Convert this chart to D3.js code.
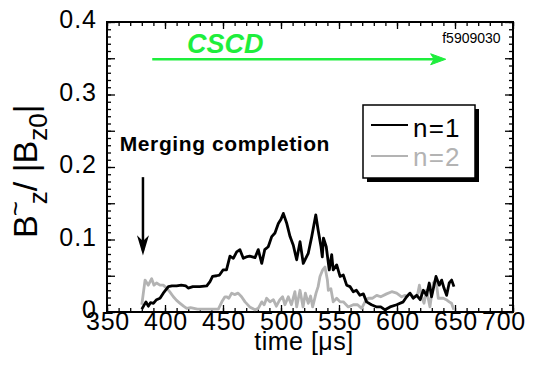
<!DOCTYPE html>
<html>
<head>
<meta charset="utf-8">
<script src="https://cdn.jsdelivr.net/npm/d3@7"></script>
<style>
  body { margin: 0; background: #fff; }
  text { font-family: "Liberation Sans", Arial, sans-serif; }
</style>
</head>
<body>
<div id="plot"></div>
<script>
// Width and height
const w = 536;
const h = 365;
const margin = {top: 22, right: 23, bottom: 53, left: 107};
const innerWidth = w - margin.left - margin.right;
const innerHeight = h - margin.top - margin.bottom;

// data
const n1Time = [380, 383.6, 385.6, 387.6, 390, 392.7, 395.7, 398.5, 402.9, 406, 410, 414, 418, 420, 424, 430, 436,
  438.8, 441, 444.5, 447, 450, 453, 456, 458.9, 461.8, 464.6, 467.5, 470, 473, 477.6, 480.4, 483.4, 486, 489,
  492, 494.8, 497.7, 500, 502, 505, 507.8, 510.6, 513.5, 516.4, 519.2, 523.5, 526.5, 530, 532, 534.5, 535.6,
  536.6, 539, 541.6, 543.7, 545, 548, 550.9, 553.7, 556.6, 559.5, 562.3, 565, 568, 571, 573.8, 578, 582.5,
  586, 589.7, 594, 599.7, 605.4, 608.3, 611.2, 614, 617, 620, 622.7, 625.5, 627.8, 629.8, 633.6, 636.5,
  638.5, 640.5, 642.8, 645, 647.1, 649.1];
const n1Val = [0.004, 0.014, 0.008, 0.013, 0.012, 0.017, 0.019, 0.026, 0.035, 0.036, 0.036, 0.037, 0.036, 0.033, 0.035, 0.035, 0.036,
  0.042, 0.049, 0.050, 0.051, 0.058, 0.058, 0.077, 0.074, 0.083, 0.086, 0.074, 0.076, 0.077, 0.075, 0.086, 0.067, 0.086, 0.090,
  0.104, 0.109, 0.122, 0.128, 0.136, 0.122, 0.104, 0.092, 0.072, 0.097, 0.067, 0.081, 0.104, 0.134, 0.113, 0.090, 0.076,
  0.102, 0.090, 0.058, 0.079, 0.058, 0.065, 0.049, 0.051, 0.037, 0.035, 0.028, 0.030, 0.023, 0.025, 0.014, 0.010, 0.007,
  0.007, 0.003, 0.007, 0.010, 0.014, 0.021, 0.026, 0.019, 0.023, 0.017, 0.030, 0.023, 0.040, 0.021, 0.049, 0.037,
  0.044, 0.033, 0.023, 0.040, 0.044, 0.035];

const n2Time = [380, 382.8, 385.6, 388.5, 390.5, 392.7, 395.7, 398.5, 401.4, 404, 407.2, 410, 413, 416, 418.7, 422, 428,
  435.9, 446, 449, 451.7, 453, 455, 457.5, 460, 463, 466, 469, 473, 477.6, 480.4, 483.4, 485.5, 487.6, 490.5,
  493.4, 496, 499, 501.4, 503.4, 506.3, 509, 512, 513.5, 516.4, 519, 521, 523.5, 525.5, 527.3, 530.2, 532,
  533.6, 535.9, 537.9, 540, 540.8, 543, 545, 548, 551, 553.7, 558, 562.3, 566, 569.5, 572.4, 575.3, 579,
  582.5, 586, 591, 595.5, 599.7, 604, 607, 608.5, 611.2, 614, 617.6, 619.3, 621.3, 623.3, 625.5, 628.4,
  631.3, 633.6, 635.6, 639.9, 642.5, 645, 647, 649];
const n2Val = [0.010, 0.044, 0.037, 0.046, 0.037, 0.040, 0.037, 0.037, 0.033, 0.028, 0.021, 0.016, 0.012, 0.008, 0.005, 0.006, 0.004,
  0.004, 0.004, 0.014, 0.021, 0.021, 0.019, 0.026, 0.024, 0.026, 0.021, 0.014, 0.007, 0.003, 0.005, 0.014, 0.010, 0.019, 0.014,
  0.017, 0.008, 0.017, 0.021, 0.010, 0.021, 0.010, 0.028, 0.007, 0.030, 0.007, 0.026, 0.012, 0.022, 0.007, 0.026, 0.035,
  0.049, 0.058, 0.062, 0.044, 0.030, 0.032, 0.014, 0.019, 0.014, 0.014, 0.007, 0.010, 0.010, 0.005, 0.014, 0.019, 0.019,
  0.023, 0.021, 0.025, 0.028, 0.026, 0.021, 0.023, 0.021, 0.026, 0.021, 0.023, 0.037, 0.021, 0.012, 0.030, 0.007,
  0.040, 0.044, 0.019, 0.019, 0.017, 0.014, 0.012, 0.003];

const xTicks = [350, 400, 450, 500, 550, 600, 650, 700];
const yTicks = [0, 0.1, 0.2, 0.3, 0.4];

const n1 = n1Time.map((t, i) => [t, n1Val[i]]);
const n2 = n2Time.map((t, i) => [t, n2Val[i]]);

// create SVG element
const svg = d3.select("div#plot")
  .append("svg")
    .attr("width", w)
    .attr("height", h);

const g = svg.append("g")
  .attr("id", "plot")
  .attr("transform", `translate (${margin.left}, ${margin.top})`);

const xScale = d3.scaleLinear()
  .domain([350, 700])
  .range([0, innerWidth]);

const yScale = d3.scaleLinear()
  .domain([0, 0.4])
  .range([innerHeight, 0]);

// inward ticks on all four sides
const minorX = d3.range(350, 701, 10);
const majorX = d3.range(350, 701, 50);
const minorY = d3.range(0, 0.4001, 0.01);
const majorY = d3.range(0, 0.4001, 0.05);

function tickAxis(axis, vals, size, transform) {
  const a = g.append("g")
    .attr("class", "ticks")
    .attr("transform", transform)
    .call(axis.tickValues(vals).tickSize(-size).tickFormat(""));
  a.select(".domain").remove();
  a.selectAll("line").attr("stroke", "#000").attr("stroke-width", 1.3);
}
tickAxis(d3.axisBottom(xScale), minorX, 4, `translate(0,${innerHeight})`);
tickAxis(d3.axisBottom(xScale), majorX, 7, `translate(0,${innerHeight})`);
tickAxis(d3.axisTop(xScale), minorX, 4, "translate(0,0)");
tickAxis(d3.axisTop(xScale), majorX, 7, "translate(0,0)");
tickAxis(d3.axisLeft(yScale), minorY, 4, "translate(0,0)");
tickAxis(d3.axisLeft(yScale), majorY, 8, "translate(0,0)");
tickAxis(d3.axisRight(yScale), minorY, 4, `translate(${innerWidth},0)`);
tickAxis(d3.axisRight(yScale), majorY, 8, `translate(${innerWidth},0)`);

// frame
g.append("rect")
  .attr("width", innerWidth)
  .attr("height", innerHeight)
  .attr("fill", "none")
  .attr("stroke", "#000")
  .attr("stroke-width", 2);

// tick labels
g.selectAll("text.xlab")
  .data(xTicks)
  .enter()
  .append("text")
    .attr("class", "xlab")
    .attr("x", d => xScale(d) + (d == 700 ? -9 : 1))
    .attr("y", innerHeight + 18)
    .attr("text-anchor", "middle")
    .style("font-size", "25px")
    .style("letter-spacing", "0.8px")
    .text(d => d);

g.selectAll("text.ylab")
  .data(yTicks)
  .enter()
  .append("text")
    .attr("class", "ylab")
    .attr("x", -10)
    .attr("y", d => yScale(d) + 6)
    .attr("text-anchor", "end")
    .style("font-size", "25px")
    .style("letter-spacing", "1px")
    .text(d => d == 0 ? "0" : d.toFixed(1));

// x-axis label
g.append("text")
  .attr("x", innerWidth / 2 - 6)
  .attr("y", innerHeight + 38)
  .attr("text-anchor", "middle")
  .style("font-size", "25px")
  .style("letter-spacing", "0.5px")
  .text("time [\u03bcs]");

// y-axis label
const ylab = svg.append("text")
  .attr("transform", "translate(37, 238) rotate(-90)")
  .style("font-size", "34px");
ylab.append("tspan").text("B");
ylab.append("tspan").attr("dy", -13).attr("dx", -1).style("font-size", "26px").text("~");
ylab.append("tspan").attr("dy", 23).attr("dx", -3).style("font-size", "26px").text("z");
ylab.append("tspan").attr("dy", -10).text("/ |B");
ylab.append("tspan").attr("dy", 10).style("font-size", "26px").text("z0");
ylab.append("tspan").attr("dy", -10).text("|");

// curves
const line = d3.line()
  .x(d => xScale(d[0]))
  .y(d => yScale(d[1]));

g.append("path")
  .datum(n2)
  .attr("d", line)
  .attr("fill", "none")
  .attr("stroke", "#b3b3b3")
  .attr("stroke-width", 2.8)
  .attr("stroke-linejoin", "round");

g.append("path")
  .datum(n1)
  .attr("d", line)
  .attr("fill", "none")
  .attr("stroke", "#000")
  .attr("stroke-width", 2.8)
  .attr("stroke-linejoin", "round");

// CSCD arrow
const green = "#1eee3c";
const gy = yScale(0.35) + 1;
g.append("line")
  .attr("x1", xScale(389)).attr("x2", xScale(638))
  .attr("y1", gy).attr("y2", gy)
  .attr("stroke", green)
  .attr("stroke-width", 2.5);
g.append("path")
  .attr("d", `M${xScale(642)},${gy} L${xScale(629)},${gy - 5.5} L${xScale(632)},${gy} L${xScale(629)},${gy + 5.5} Z`)
  .attr("fill", green)
  .attr("stroke", green)
  .attr("stroke-width", 1);
g.append("text")
  .attr("x", xScale(419))
  .attr("y", 31)
  .style("font-size", "27px")
  .style("font-weight", "bold")
  .style("font-style", "italic")
  .attr("fill", green)
  .text("CSCD");

g.append("text")
  .attr("x", xScale(639))
  .attr("y", 21)
  .style("font-size", "14px")
  .text("f5909030");

// merging completion annotation
g.append("text")
  .attr("x", xScale(361))
  .attr("y", 129)
  .style("font-size", "21px")
  .style("font-weight", "bold")
  .style("letter-spacing", "0.6px")
  .text("Merging completion");

const ax = xScale(381);
g.append("line")
  .attr("x1", ax).attr("x2", ax)
  .attr("y1", yScale(0.186)).attr("y2", yScale(0.085))
  .attr("stroke", "#000")
  .attr("stroke-width", 2.5);
g.append("path")
  .attr("d", `M${ax},${yScale(0.078)} L${ax - 6},${yScale(0.106)} L${ax},${yScale(0.098)} L${ax + 6},${yScale(0.106)} Z`)
  .attr("fill", "#000");

// legend
const lg = svg.append("g").attr("transform", "translate(363,105)");
lg.append("rect")
  .attr("x", 4).attr("y", 4)
  .attr("width", 112).attr("height", 73)
  .attr("fill", "#000");
lg.append("rect")
  .attr("width", 112).attr("height", 73)
  .attr("fill", "#fff")
  .attr("stroke", "#000")
  .attr("stroke-width", 1.5);
const legendItems = [["n=1", "#000"], ["n=2", "#b3b3b3"]];
legendItems.forEach((d, i) => {
  lg.append("line")
    .attr("x1", 8).attr("x2", 45)
    .attr("y1", 20 + i * 31).attr("y2", 20 + i * 31)
    .attr("stroke", d[1])
    .attr("stroke-width", 2);
  lg.append("text")
    .attr("x", 50)
    .attr("y", 32 + i * 29)
    .attr("fill", d[1])
    .style("font-size", "26px")
    .style("letter-spacing", "1.2px")
    .text(d[0]);
});
</script>
</body>
</html>
